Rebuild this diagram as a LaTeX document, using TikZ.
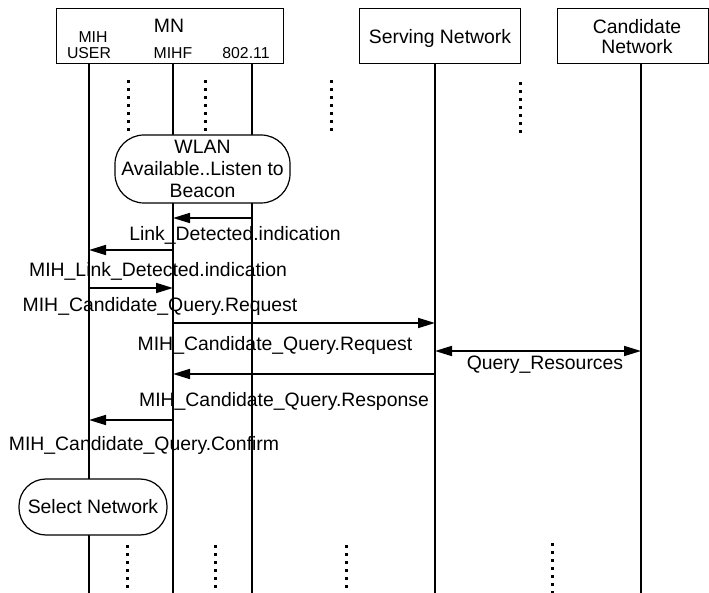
\documentclass[tikz,border=0pt]{standalone}
\usepackage{fontspec}
\setmainfont{Liberation Sans}
\usetikzlibrary{arrows.meta}
\begin{document}
\begin{tikzpicture}[x=1pt,y=-1pt,
  hbox/.style={draw,line width=1pt,inner sep=0pt,fill=white},
  big/.style={font=\fontsize{19.4}{22}\selectfont},
  small/.style={font=\fontsize{15.8}{18}\selectfont},
  txt/.style={inner sep=0pt,anchor=base},
  life/.style={line width=1.9pt},
  msg/.style={line width=1.7pt,-{Triangle[length=17pt,width=10pt]}},
  dmsg/.style={line width=1.7pt,{Triangle[length=17pt,width=10pt]}-{Triangle[length=17pt,width=10pt]}},
  dots/.style={line width=3pt,dash pattern=on 3pt off 5pt},
  stad/.style={draw,line width=1.2pt,fill=white,rounded corners=29pt,inner sep=0pt,align=center,big}
]
\useasboundingbox (0,0) rectangle (709,593);
% header boxes
\node[hbox,minimum width=227pt,minimum height=55pt] (mn) at (169.5,36.5) {};
\node[hbox,minimum width=161pt,minimum height=55pt] (serv) at (439.5,36.5) {};
\node[hbox,minimum width=151pt,minimum height=55pt] (cand) at (632.5,36.5) {};
\node[txt,big] (mnt) at (169,32.5) {MN};
\node[txt,small] (mih) at (93,43) {MIH};
\node[txt,small] (user) at (89,59) {USER};
\node[txt,small] (mihf) at (173,59) {MIHF};
\node[txt,small] (w802) at (246,59) {802.11};
\node[txt,big] (servt) at (440,44) {Serving Network};
\node[txt,big] (candt1) at (637,34) {Candidate};
\node[txt,big] (candt2) at (637,54) {Network};
% lifelines
\coordinate (tU) at (89,64);  \coordinate (bU) at (89,593);
\coordinate (tM) at (173,64); \coordinate (bM) at (173,593);
\coordinate (t8) at (252,64); \coordinate (b8) at (252,593);
\coordinate (tS) at (435,64); \coordinate (bS) at (435,593);
\coordinate (tC) at (641,64); \coordinate (bC) at (641,593);
\draw[life] (tU) -- (bU);
\draw[life] (tM) -- (bM);
\draw[life] (t8) -- (b8);
\draw[life] (tS) -- (bS);
\draw[life] (tC) -- (bC);
% dotted continuation marks
\draw[dots] (128,80) -- (128,131);
\draw[dots] (205,80) -- (205,131);
\draw[dots] (331,80) -- (331,131);
\draw[dots] (520,82) -- (520,133);
\draw[dots] (127,545) -- (127,593);
\draw[dots] (215,545) -- (215,593);
\draw[dots] (346,545) -- (346,593);
\draw[dots] (552,543) -- (552,593);
% action boxes
\node[stad,minimum width=175pt,minimum height=68pt] (wlan) at (202.5,169) {WLAN\\Available..Listen to\\Beacon};
\node[stad,minimum width=148pt,minimum height=56pt,rounded corners=27pt] (sel) at (93,507) {Select Network};
% messages
\draw[msg] (t8 |- 0,218) -- (tM |- 0,218);
\node[txt,big] (l1) at (235,241) {Link\_Detected.indication};
\draw[msg] (tM |- 0,250) -- (tU |- 0,250);
\node[txt,big] (l2) at (158,277) {MIH\_Link\_Detected.indication};
\draw[msg] (tU |- 0,288) -- (tM |- 0,288);
\node[txt,big] (l3) at (160,312) {MIH\_Candidate\_Query.Request};
\draw[msg] (tM |- 0,323) -- (tS |- 0,323);
\node[txt,big] (l4) at (275,350) {MIH\_Candidate\_Query.Request};
\draw[dmsg] (tS |- 0,351) -- (tC |- 0,351);
\node[txt,big] (l5) at (545,370) {Query\_Resources};
\draw[msg] (tS |- 0,374) -- (tM |- 0,374);
\node[txt,big] (l6) at (284,406) {MIH\_Candidate\_Query.Response};
\draw[msg] (tM |- 0,420) -- (tU |- 0,420);
\node[txt,big] (l7) at (144,450) {MIH\_Candidate\_Query.Confirm};
\end{tikzpicture}
\end{document}
